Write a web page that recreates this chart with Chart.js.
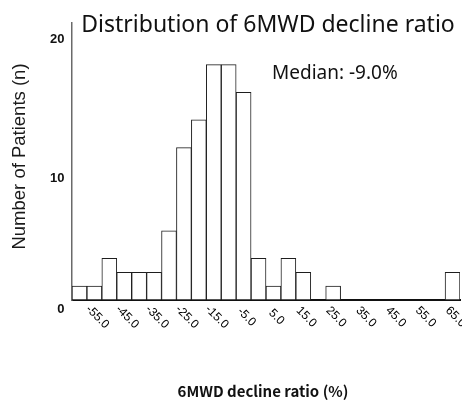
<!DOCTYPE html>
<html>
<head>
<meta charset="utf-8">
<title>Distribution of 6MWD decline ratio</title>
<script src="https://cdn.jsdelivr.net/npm/chart.js@4/dist/chart.umd.min.js"></script>
<style>
  html, body { margin: 0; padding: 0; background: #ffffff; }
  canvas { display: block; }
</style>
</head>
<body>
<canvas id="chart" width="462" height="401"></canvas>
<script>
// Histogram bins (centre of each 5-point bin, %)
const binCenters = [-60, -55, -50, -45, -40, -35, -30, -25, -20, -15, -10, -5, 0,
                    5, 10, 15, 20, 25, 30, 35, 40, 45, 50, 55, 60, 65];
// Number of patients in each bin
const patientCounts = [1, 1, 3, 2, 2, 2, 5, 11, 13, 17, 17, 15, 3,
                       1, 3, 2, 0, 1, 0, 0, 0, 0, 0, 0, 0, 2];
// Labels shown under the x axis (every other bin)
const xTickLabels = ['-55.0', '-45.0', '-35.0', '-25.0', '-15.0', '-5.0', '5.0',
                     '15.0', '25.0', '35.0', '45.0', '55.0', '65.0'];
// Labels shown beside the y axis
const yTickValues = [0, 10, 20];

const chartTitle = 'Distribution of 6MWD decline ratio';
const medianNote = 'Median: -9.0%';
const xAxisTitle = '6MWD decline ratio (%)';
const yAxisTitle = 'Number of Patients (n)';

const categoryLabels = binCenters.map(v => v.toFixed(1));

// Draws titles, tick labels and the median note using the chart's scales
const textPlugin = {
  id: 'histText',
  afterDraw(chart) {
    const ctx = chart.ctx;
    const area = chart.chartArea;
    const xs = chart.scales.x;
    const ys = chart.scales.y;
    const midX = (area.left + area.right) / 2;
    ctx.save();
    ctx.fillStyle = '#111111';

    // main title
    ctx.font = '23px "Noto Sans", "Open Sans", sans-serif';
    ctx.textAlign = 'center';
    ctx.textBaseline = 'alphabetic';
    ctx.fillText(chartTitle, midX + 2, area.top + 9);

    // median annotation
    ctx.font = '19px "Noto Sans", "Open Sans", sans-serif';
    ctx.textAlign = 'left';
    ctx.fillText(medianNote, area.left + 200, area.top + 56);

    // y tick labels
    ctx.font = 'bold 13px "Liberation Sans", Arial, sans-serif';
    ctx.textAlign = 'right';
    ctx.textBaseline = 'middle';
    yTickValues.forEach(v => {
      const y = Math.min(ys.getPixelForValue(v) + 16.5, area.bottom + 9);
      ctx.fillText(String(v), area.left - 7.5, y);
    });

    // x tick labels, rotated clockwise
    ctx.font = '12px "Liberation Sans", Arial, sans-serif';
    ctx.fillStyle = '#000000';
    ctx.textAlign = 'center';
    ctx.textBaseline = 'middle';
    xTickLabels.forEach(lbl => {
      const idx = categoryLabels.indexOf(lbl);
      if (idx < 0) return;
      const x = xs.getPixelForValue(idx) + 3;
      ctx.save();
      ctx.translate(x, area.bottom + 17);
      ctx.rotate(Math.PI / 4);
      ctx.fillText(lbl, 0, 0);
      ctx.restore();
    });

    // x axis title
    ctx.font = 'bold 15px "Noto Sans CJK JP", "Liberation Sans", sans-serif';
    ctx.fillStyle = '#111111';
    ctx.textAlign = 'center';
    ctx.textBaseline = 'middle';
    ctx.fillText(xAxisTitle, midX - 3, area.bottom + 91);

    // y axis title
    ctx.font = '18.5px "Liberation Sans", Arial, sans-serif';
    ctx.fillStyle = '#1a1a1a';
    ctx.save();
    ctx.translate(20, (area.top + area.bottom) / 2 - 5);
    ctx.rotate(-Math.PI / 2);
    ctx.fillText(yAxisTitle, 0, 0);
    ctx.restore();

    ctx.restore();
  }
};

new Chart(document.getElementById('chart'), {
  type: 'bar',
  data: {
    labels: categoryLabels,
    datasets: [{
      data: patientCounts,
      backgroundColor: '#ffffff',
      borderColor: '#1e1e1e',
      borderWidth: 1,
      borderSkipped: false,
      barPercentage: 1.0,
      categoryPercentage: 1.0
    }]
  },
  options: {
    responsive: false,
    animation: false,
    devicePixelRatio: 1,
    layout: { padding: { left: 72, right: 2, top: 23, bottom: 101 } },
    plugins: {
      legend: { display: false },
      title: { display: false },
      tooltip: { enabled: false }
    },
    scales: {
      x: {
        type: 'category',
        offset: true,
        grid: { display: false, drawTicks: false },
        ticks: { display: false },
        border: { display: true, color: '#111111', width: 2 }
      },
      y: {
        min: 0,
        max: 20,
        grid: { display: false, drawTicks: false },
        ticks: { display: false },
        border: { display: true, color: '#6a6a6a', width: 1.5 }
      }
    }
  },
  plugins: [textPlugin]
});
</script>
</body>
</html>
